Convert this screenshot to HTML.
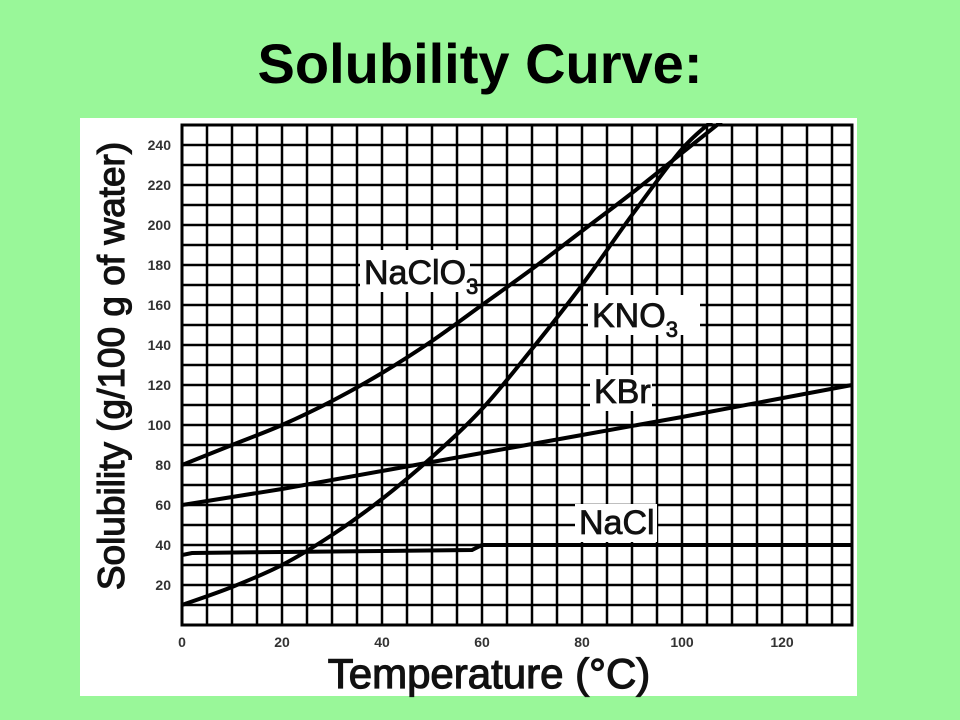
<!DOCTYPE html>
<html><head><meta charset="utf-8"><style>
html,body{margin:0;padding:0;width:960px;height:720px;background:#99f799;overflow:hidden}
</style></head><body>
<svg width="960" height="720" xmlns="http://www.w3.org/2000/svg" id="chart">
<rect x="0" y="0" width="960" height="720" fill="#99f799"/>
<text x="480" y="83" text-anchor="middle" font-family="Liberation Sans, sans-serif" font-weight="bold" font-size="56" fill="#000">Solubility Curve:</text>
<rect x="80" y="118" width="777" height="578" fill="#fff"/>
<g id="grid"></g>
<g id="ticks"></g>
<g id="series"></g>
<g id="labels"></g>
<text x="0" y="0" transform="translate(124,366) rotate(-90)" text-anchor="middle" font-family="Liberation Sans, sans-serif" font-size="37" fill="#111" stroke="#111" stroke-width="1.2">Solubility (g/100 g of water)</text>
<text x="489" y="688" text-anchor="middle" font-family="Liberation Sans, sans-serif" font-size="42" fill="#111" stroke="#111" stroke-width="1.2">Temperature (°C)</text>
</svg>
<script>
const xTicks=[0,20,40,60,80,100,120];
const yTicks=[20,40,60,80,100,120,140,160,180,200,220,240];
const seriesNames=["NaClO3","KNO3","KBr","NaCl"];
const naclo3T=[0,10,20,30,40,50,60,70,80,90,100,108];
const naclo3V=[80,90,100,112,126,142,160,178,197,216,236,252];
const kno3T=[0,10,20,30,40,50,60,70,80,90,100,107];
const kno3V=[10,19,30,45,63,84,108,138,170,205,238,254];
const kbrT=[0,20,40,60,80,100,134];
const kbrV=[60,68,77,86,95,104,120];
const naclT=[0,2,20,40,58,60,134];
const naclV=[35,36,36.5,37,37.5,40,40];
const X0=182,Y0=625,XS=5,YS=2,XMAX=134,YMAX=250;
function xs(t){return X0+t*XS;}
function ys(v){return Y0-v*YS;}
const NS="http://www.w3.org/2000/svg";
function mk(tag,attrs,parent){const e=document.createElementNS(NS,tag);for(const k in attrs)e.setAttribute(k,attrs[k]);parent.appendChild(e);return e;}
const grid=document.getElementById('grid');
for(let t=0;t<=XMAX;t+=5){const l=mk('line',{x1:xs(t),x2:xs(t),y1:ys(YMAX),y2:ys(0),stroke:'#000','stroke-width':2.5},grid);

}
for(let v=0;v<=YMAX;v+=10){const l=mk('line',{x1:xs(0),x2:xs(XMAX),y1:ys(v),y2:ys(v),stroke:'#000','stroke-width':2.5},grid);

}
const b=mk('rect',{x:xs(0),y:ys(YMAX),width:XMAX*XS,height:YMAX*YS,fill:'none',stroke:'#000','stroke-width':3},grid);


const ticks=document.getElementById('ticks');
xTicks.forEach(t=>{const e=mk('text',{x:xs(t),y:647,'text-anchor':'middle','font-family':'Liberation Sans, sans-serif','font-size':14,'font-weight':'bold',fill:'#333'},ticks);e.textContent=t;

});
yTicks.forEach(v=>{const e=mk('text',{x:171,y:ys(v)+5,'text-anchor':'end','font-family':'Liberation Sans, sans-serif','font-size':14,'font-weight':'bold',fill:'#333'},ticks);e.textContent=v;

});
const ser=document.getElementById('series');
const cp=mk('clipPath',{id:'clip'},ser);mk('rect',{x:xs(0),y:ys(YMAX)-2,width:XMAX*XS+2,height:YMAX*YS+4},cp);
function smooth(T,V){let d='M'+xs(T[0])+','+ys(V[0]);for(let i=1;i<T.length;i++){const p0=i>1?[T[i-2],V[i-2]]:[T[i-1],V[i-1]],p1=[T[i-1],V[i-1]],p2=[T[i],V[i]],p3=i<T.length-1?[T[i+1],V[i+1]]:p2;
const c1=[p1[0]+(p2[0]-p0[0])/6,p1[1]+(p2[1]-p0[1])/6],c2=[p2[0]-(p3[0]-p1[0])/6,p2[1]-(p3[1]-p1[1])/6];
d+=' C'+xs(c1[0])+','+ys(c1[1])+' '+xs(c2[0])+','+ys(c2[1])+' '+xs(p2[0])+','+ys(p2[1]);}return d;}
function poly(T,V){return 'M'+T.map((t,i)=>xs(t)+','+ys(V[i])).join(' L');}
const paths=[[smooth(naclo3T,naclo3V),'curve-naclo3'],[smooth(kno3T,kno3V),'curve-kno3'],[poly(kbrT,kbrV),'curve-kbr'],[poly(naclT,naclV),'curve-nacl']];
paths.forEach(p=>{const e=mk('path',{d:p[0],fill:'none',stroke:'#000','stroke-width':4,'clip-path':'url(#clip)'},ser);

});
const labs=document.getElementById('labels');
function label(x,y,w,h,txt,sub,name){const g=mk('g',{},labs);


mk('rect',{x:x,y:y,width:w,height:h,fill:'#fff'},g);
const t=mk('text',{x:x+4,y:y+h-8,'font-family':'Liberation Sans, sans-serif','font-size':34,fill:'#111',stroke:'#111','stroke-width':0.8},g);t.textContent=txt;
if(sub){const s=mk('tspan',{'font-size':22,dy:10},t);s.textContent=sub;}}
label(360,250,110,42,'NaClO','3','label-naclo3');
label(588,295,112,40,'KNO','3','label-kno3');
label(590,375,62,36,'KBr','','label-kbr');
label(575,504,82,38,'NaCl','','label-nacl');
</script>
</body></html>
